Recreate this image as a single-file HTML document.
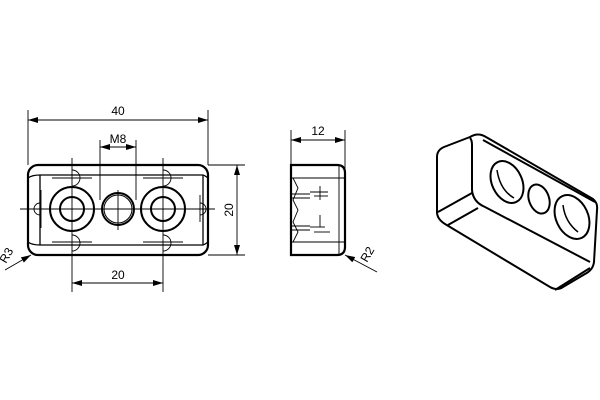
<!DOCTYPE html>
<html><head><style>html,body{margin:0;padding:0;background:#fff;width:600px;height:400px;overflow:hidden}</style></head>
<body>
<svg width="600" height="400" viewBox="0 0 600 400" xmlns="http://www.w3.org/2000/svg" font-family="Liberation Sans, sans-serif" font-size="12" fill="none" stroke="#000">
<defs><marker id="a" markerWidth="10" markerHeight="6" refX="10" refY="3" orient="auto-start-reverse" markerUnits="userSpaceOnUse"><path d="M0,0 L10,3 L0,6z" fill="#000" stroke="none"/></marker></defs>
<rect x="28" y="165" width="180" height="90" rx="10" stroke-width="2.2"/>
<line x1="40" y1="175" x2="203" y2="175" stroke-width="1.3"/>
<line x1="40" y1="245" x2="203" y2="245" stroke-width="1.3"/>
<line x1="40" y1="175" x2="40" y2="245" stroke-width="1.3"/>
<line x1="203" y1="175" x2="203" y2="245" stroke-width="1.3"/>
<path d="M28,178 Q32,175 40,175 M208,178 Q204,175 203,175 M28,242 Q32,245 40,245 M208,242 Q204,245 203,245" stroke-width="1.3"/>
<g stroke-width="2">
<circle cx="72" cy="209" r="22"/><circle cx="72" cy="209" r="12"/>
<circle cx="163" cy="209" r="22"/><circle cx="163" cy="209" r="12"/>
<circle cx="118" cy="209" r="16"/>
</g>
<circle cx="118" cy="209" r="14" stroke-width="1"/>
<g stroke-width="0.9">
<line x1="20" y1="209" x2="215" y2="209"/>
<line x1="72" y1="158" x2="72" y2="292"/><line x1="163" y1="158" x2="163" y2="292"/>
<line x1="118" y1="190" x2="118" y2="230"/>
<line x1="52" y1="178" x2="92" y2="178"/><line x1="52" y1="242" x2="92" y2="242"/>
<line x1="143" y1="178" x2="183" y2="178"/><line x1="143" y1="242" x2="183" y2="242"/>
<line x1="41" y1="190" x2="41" y2="228"/><line x1="200" y1="195" x2="200" y2="222"/>
<path d="M72,170 a8,8 0 0 1 8,8 a8,8 0 0 1 -8,8 M163,170 a8,8 0 0 1 8,8 a8,8 0 0 1 -8,8 M72,235 a8,8 0 0 1 8,8 a8,8 0 0 1 -8,8 M163,235 a8,8 0 0 1 8,8 a8,8 0 0 1 -8,8 M40,203 a6,6 0 0 0 0,12 M200,203 a6,6 0 0 1 0,12"/>
<line x1="28" y1="110" x2="28" y2="165"/><line x1="208" y1="110" x2="208" y2="165"/>
<line x1="28" y1="120" x2="208" y2="120" marker-start="url(#a)" marker-end="url(#a)"/>
<line x1="100" y1="140" x2="100" y2="200"/><line x1="136" y1="140" x2="136" y2="200"/>
<line x1="100" y1="147" x2="136" y2="147" marker-start="url(#a)" marker-end="url(#a)"/>
<line x1="208" y1="165" x2="245" y2="165"/><line x1="208" y1="255" x2="245" y2="255"/>
<line x1="237" y1="165" x2="237" y2="255" marker-start="url(#a)" marker-end="url(#a)"/>
<line x1="72" y1="283" x2="163" y2="283" marker-start="url(#a)" marker-end="url(#a)"/>
<line x1="5" y1="270" x2="31" y2="255" marker-end="url(#a)"/>
</g>
<g fill="#000" stroke="none" font-size="12">
<text x="118" y="115" text-anchor="middle">40</text>
<text x="118" y="143" text-anchor="middle">M8</text>
<text x="118" y="279" text-anchor="middle">20</text>
<text transform="translate(233,210) rotate(-90)" text-anchor="middle">20</text>
<text transform="translate(6,264) rotate(-60)" text-anchor="start">R3</text>
<text x="318" y="135" text-anchor="middle">12</text>
<text transform="translate(367,263) rotate(-60)" text-anchor="start">R2</text>
</g>
<path d="M291,165 L337,165 Q345,165 345,173 L345,247 Q345,255 337,255 L291,255 Z" stroke-width="2.2"/>
<g stroke-width="0.9">
<line x1="291" y1="178" x2="345" y2="178"/><line x1="291" y1="242" x2="345" y2="242"/>
<line x1="339" y1="166" x2="339" y2="254"/>
<path d="M293,178 L298,188 L293,200 L298,210 L293,222 L298,232 L293,242"/>
<line x1="292" y1="194" x2="310" y2="194"/><line x1="292" y1="198" x2="310" y2="198"/>
<line x1="292" y1="226" x2="310" y2="226"/><line x1="292" y1="230" x2="310" y2="230"/>
<line x1="310" y1="192" x2="328" y2="192"/><line x1="314" y1="196" x2="328" y2="196"/><line x1="320" y1="186" x2="320" y2="200"/>
<line x1="310" y1="227" x2="325" y2="227"/><line x1="314" y1="232" x2="330" y2="232"/><line x1="320" y1="215" x2="320" y2="227"/>
<line x1="291" y1="130" x2="291" y2="165"/><line x1="345" y1="130" x2="345" y2="173"/>
<line x1="291" y1="140" x2="345" y2="140" marker-start="url(#a)" marker-end="url(#a)"/>
<line x1="377" y1="272" x2="345" y2="255" marker-end="url(#a)"/>
</g>
<g stroke-width="2" stroke-linejoin="round">
<path d="M437,157 Q437,150 444,147 L470,137 Q478,132 486,137 L593,199 Q598,203 597,210 L594,262 Q593,270 585,274 L563,287 Q557,291 550,287 L445,224 Q437,219 437,212 Z"/>
<path d="M470,138 Q472,140 472,145 L472,190 Q473,202 485,207 L590,262"/>
<path d="M438,212 L472,193"/>
<path d="M448,225 L478,208"/>
<path d="M483,140 L595,202"/>
<path d="M555,290 L590,268"/>
<ellipse cx="507" cy="182" rx="15" ry="22" transform="rotate(-25 507 182)"/>
<ellipse cx="539" cy="199" rx="10" ry="15" transform="rotate(-20 539 199)"/>
<ellipse cx="572" cy="217" rx="16" ry="23" transform="rotate(-25 572 217)"/>
</g>
<path d="M497,170 Q500,190 514,198 M563,205 Q565,222 578,232" stroke-width="1.5"/>
</svg>
</body></html>
